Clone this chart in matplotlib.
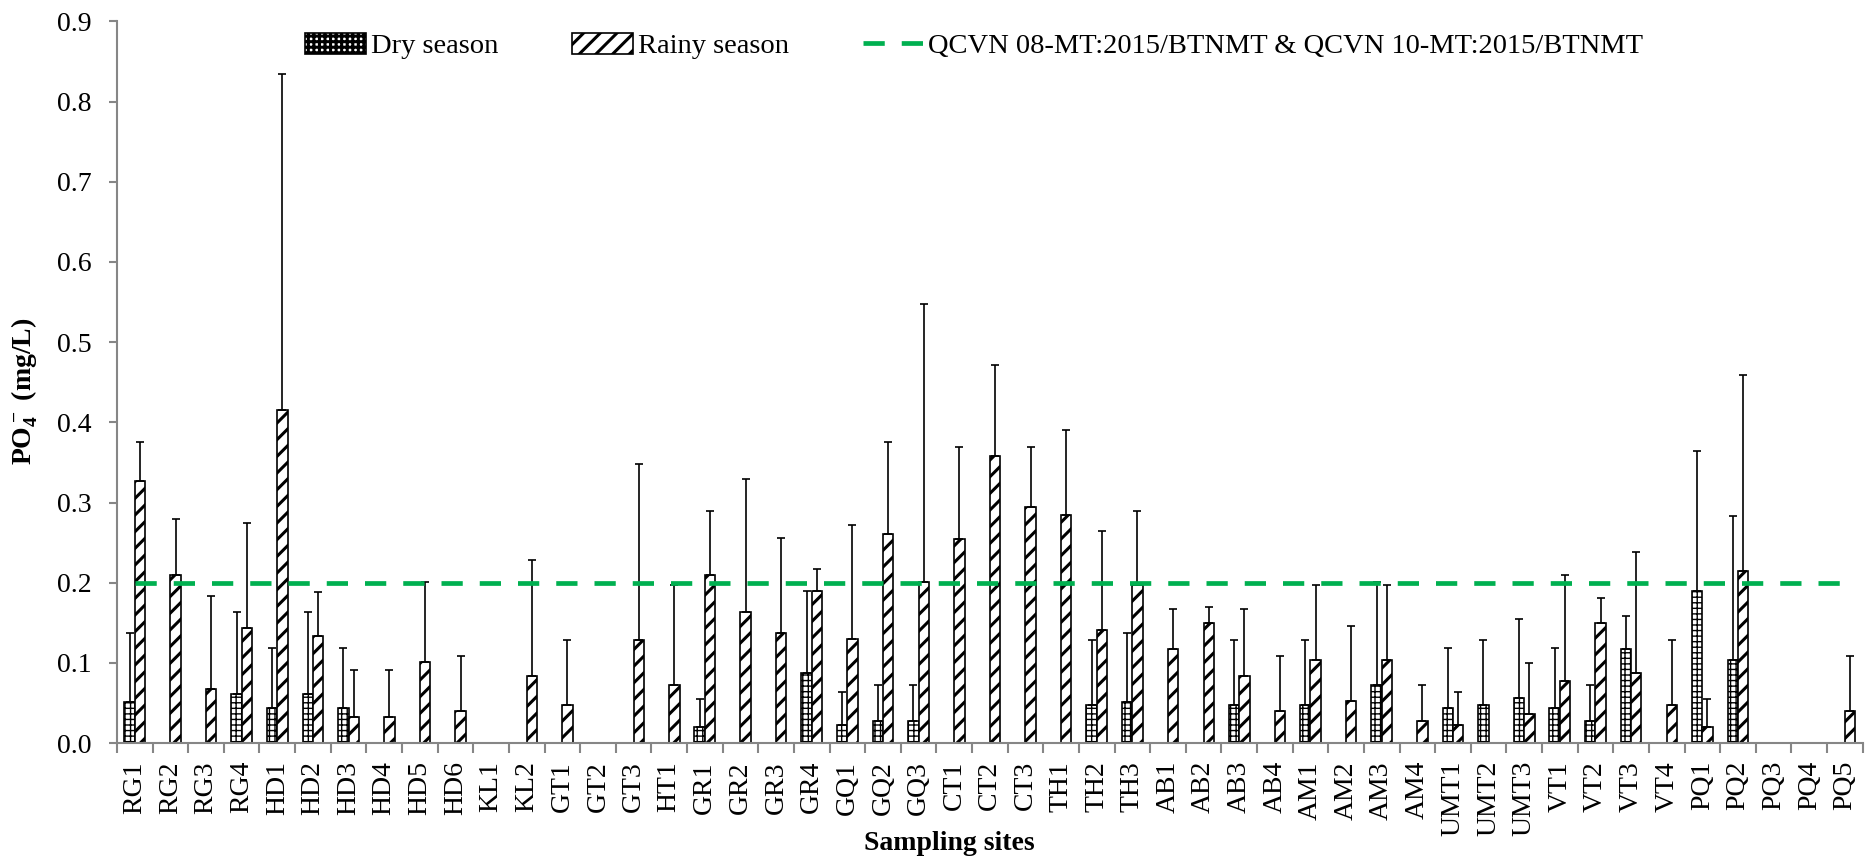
import numpy as np
import matplotlib.pyplot as plt

plt.rcParams['font.family'] = 'Liberation Serif'
plt.rcParams['mathtext.default'] = 'regular'

sites = ['RG1', 'RG2', 'RG3', 'RG4', 'HD1', 'HD2', 'HD3', 'HD4', 'HD5', 'HD6',
         'KL1', 'KL2', 'GT1', 'GT2', 'GT3', 'HT1', 'GR1', 'GR2', 'GR3', 'GR4',
         'GQ1', 'GQ2', 'GQ3', 'CT1', 'CT2', 'CT3', 'TH1', 'TH2', 'TH3', 'AB1',
         'AB2', 'AB3', 'AB4', 'AM1', 'AM2', 'AM3', 'AM4', 'UMT1', 'UMT2', 'UMT3',
         'VT1', 'VT2', 'VT3', 'VT4', 'PQ1', 'PQ2', 'PQ3', 'PQ4', 'PQ5']
nan = np.nan
# dry season mean and +SD
dry = [0.051, nan, nan, 0.061, 0.044, 0.061, 0.044, nan, nan, nan,
       nan, nan, nan, nan, nan, nan, 0.020, nan, nan, 0.087,
       0.023, 0.027, 0.027, nan, nan, nan, nan, 0.047, 0.051, nan,
       nan, 0.047, nan, 0.047, nan, 0.073, nan, 0.044, 0.047, 0.056,
       0.044, 0.027, 0.117, nan, 0.190, 0.104, nan, nan, nan]
dry_sd = [0.086, nan, nan, 0.103, 0.075, 0.103, 0.075, nan, nan, nan,
          nan, nan, nan, nan, nan, nan, 0.035, nan, nan, 0.103,
          0.041, 0.046, 0.046, nan, nan, nan, nan, 0.081, 0.086, nan,
          nan, 0.081, nan, 0.081, nan, 0.128, nan, 0.074, 0.081, 0.099,
          0.074, 0.046, 0.042, nan, 0.174, 0.179, nan, nan, nan]
# rainy season mean and +SD
rainy = [0.327, 0.210, 0.068, 0.144, 0.415, 0.134, 0.033, 0.033, 0.101, 0.040,
         nan, 0.084, 0.047, nan, 0.128, 0.073, 0.210, 0.164, 0.137, 0.190,
         0.130, 0.261, 0.201, 0.254, 0.358, 0.294, 0.285, 0.141, 0.197, 0.117,
         0.150, 0.084, 0.040, 0.104, 0.053, 0.104, 0.027, 0.023, nan, 0.036,
         0.077, 0.150, 0.087, 0.047, 0.020, 0.214, nan, nan, 0.040]
rainy_sd = [0.049, 0.069, 0.115, 0.130, 0.420, 0.054, 0.058, 0.058, 0.100, 0.069,
            nan, 0.144, 0.081, nan, 0.220, 0.124, 0.079, 0.165, 0.119, 0.027,
            0.142, 0.115, 0.347, 0.115, 0.114, 0.075, 0.106, 0.124, 0.092, 0.050,
            0.020, 0.083, 0.069, 0.093, 0.093, 0.093, 0.046, 0.041, nan, 0.064,
            0.133, 0.031, 0.151, 0.081, 0.035, 0.245, nan, nan, 0.069]
limit = 0.2

x = np.arange(len(sites))
w = 0.29
grey = '#868686'

fig = plt.figure(figsize=(18.66, 8.59), dpi=100)
ax = fig.add_axes([0.0627, 0.135, 0.9355, 0.84])

plt.rcParams['hatch.linewidth'] = 1.0
b1 = ax.bar(x - w/2, dry, w, color='white', edgecolor='black', hatch='+++',
            linewidth=1.2, label='Dry season')
plt.rcParams['hatch.linewidth'] = 2.2
b2 = ax.bar(x + w/2, rainy, w, color='white', edgecolor='black', hatch='//',
            linewidth=1.2, label='Rainy season')

zeros = np.zeros(len(x))
ax.errorbar(x - w/2, dry, yerr=[zeros, dry_sd], fmt='none', ecolor='black',
            elinewidth=1.2, capsize=3, capthick=1.2)
ax.errorbar(x + w/2, rainy, yerr=[zeros, rainy_sd], fmt='none', ecolor='black',
            elinewidth=1.2, capsize=3, capthick=1.2)

ln, = ax.plot(x, [limit] * len(x), color='#00B050', lw=3.4, dashes=(4.5, 3.6),
              label='QCVN 08-MT:2015/BTNMT & QCVN 10-MT:2015/BTNMT')

ax.set_xlim(-0.5, len(sites) - 0.5)
ax.set_ylim(0, 0.9)
ax.set_yticks(np.arange(0, 0.91, 0.1))
ax.set_yticklabels(['%.1f' % v for v in np.arange(0, 0.91, 0.1)], fontsize=20)
ax.set_xticks(x)
ax.set_xticklabels(sites, rotation=90, fontsize=20)
ax.set_xticks(np.arange(-0.5, len(sites), 1), minor=True)
ax.tick_params(axis='x', which='major', length=0, pad=13)
ax.tick_params(axis='x', which='minor', length=7, width=1.5, color=grey)
ax.tick_params(axis='y', length=6, width=1.5, color=grey, pad=12)

for s in ['top', 'right']:
    ax.spines[s].set_visible(False)
for s in ['left', 'bottom']:
    ax.spines[s].set_color(grey)
    ax.spines[s].set_linewidth(1.5)

ax.set_ylabel('PO$_4^-$ (mg/L)', fontsize=20, fontweight='bold')
ax.yaxis.set_label_coords(-0.044, 0.488)
ax.set_xlabel('Sampling sites', fontsize=20, fontweight='bold')
ax.xaxis.set_label_coords(0.477, -0.122)

ax.legend(handles=[b1, b2, ln], loc='upper center', bbox_to_anchor=(0.491, 1.02),
          ncol=3, frameon=False, fontsize=20.5, handlelength=2.15, handleheight=0.8,
          columnspacing=2.6, handletextpad=0.15)

plt.savefig('out.png', dpi=100)
